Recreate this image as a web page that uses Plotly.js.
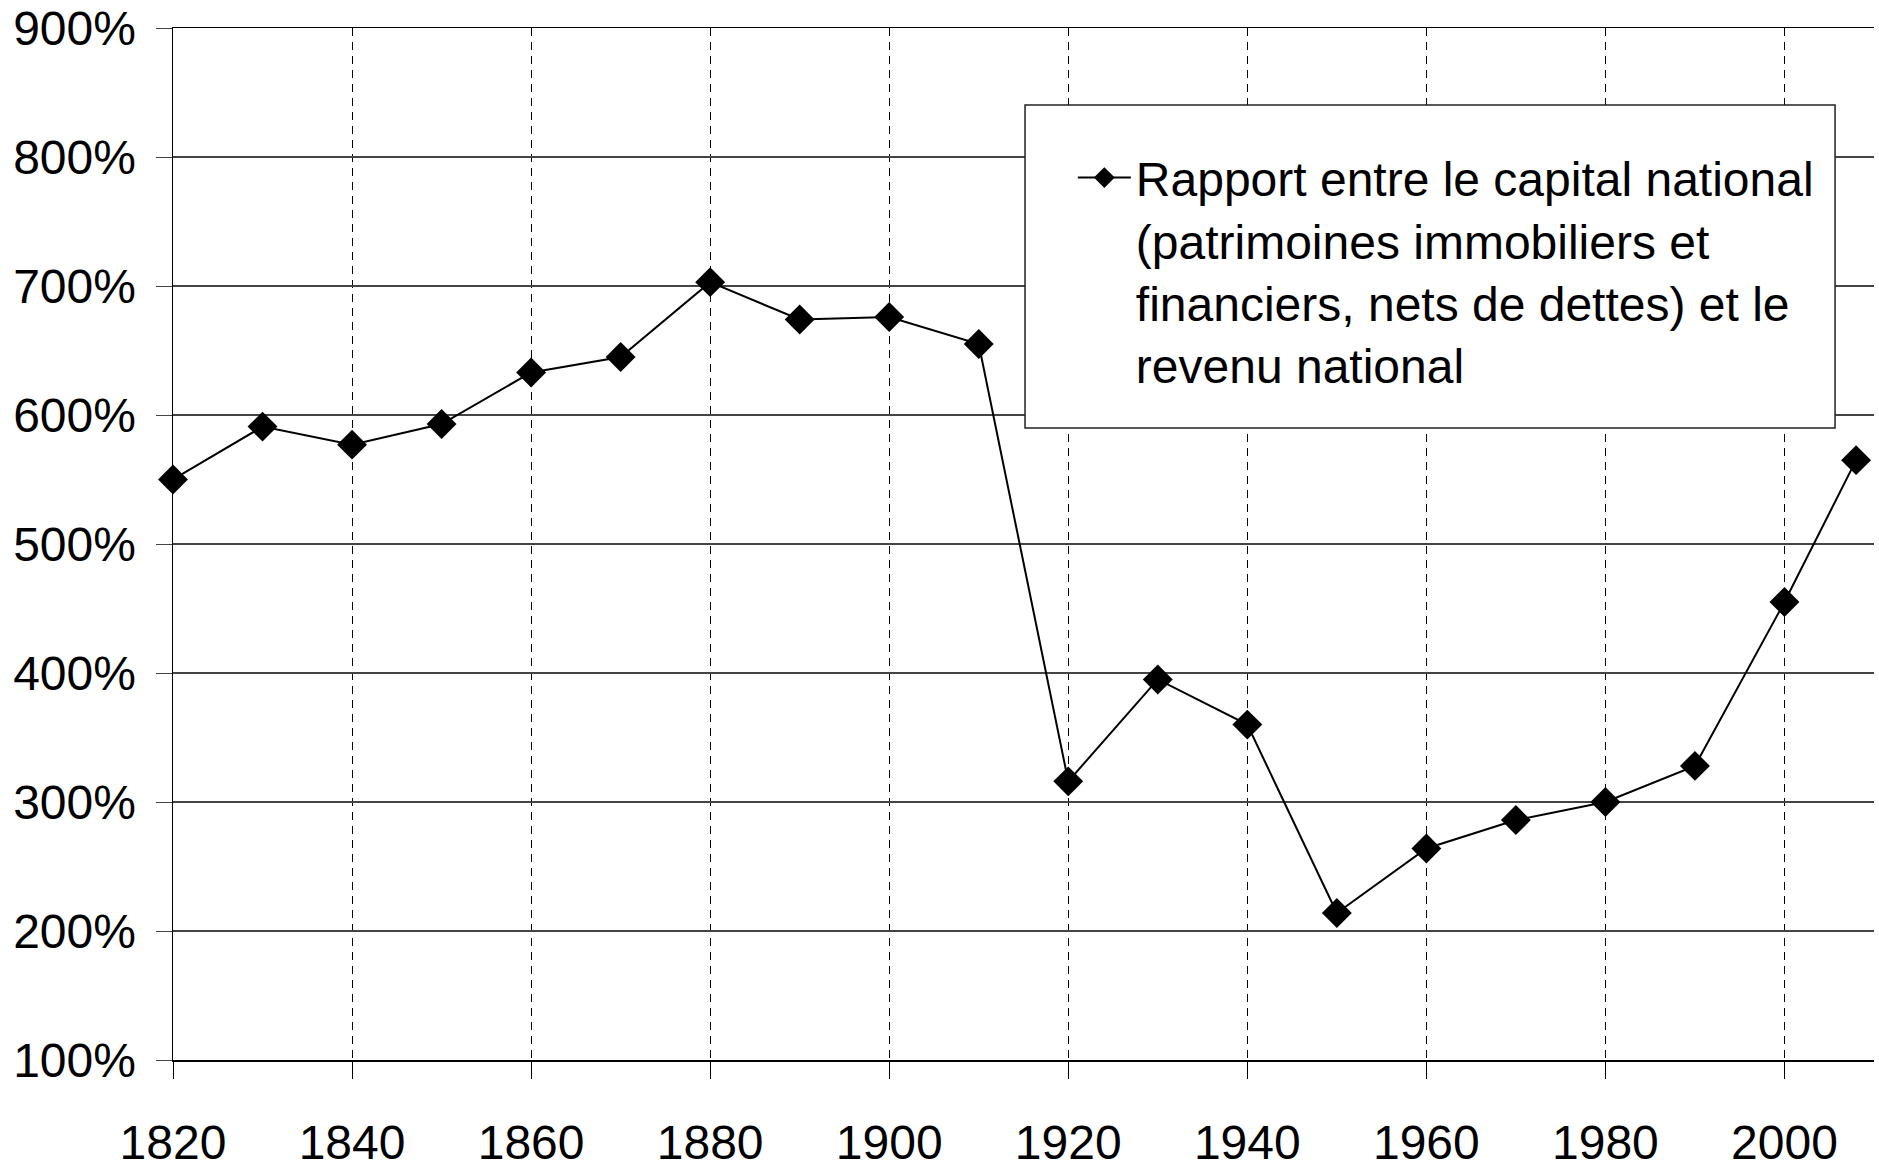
<!DOCTYPE html>
<html>
<head>
<meta charset="utf-8">
<script src="https://cdn.plot.ly/plotly-3.0.1.min.js"></script>
<style>
html,body{margin:0;padding:0;background:#ffffff;}
#chart{width:1879px;height:1174px;}
</style>
</head>
<body>
<div id="chart"></div>
<script>
// ---- data ----
const years = [1820,1830,1840,1850,1860,1870,1880,1890,1900,1910,1920,1930,1940,1950,1960,1970,1980,1990,2000,2008];
const ratioPct = [550,591,577,593,633,645,703,674,676,655,316,395,360,214,264,286,300,328,455,565];
const seriesName = "Rapport entre le capital national<br>(patrimoines immobiliers et<br>financiers, nets de dettes) et le<br>revenu national";
const xTickVals = [1820,1840,1860,1880,1900,1920,1940,1960,1980,2000];
const xTickText = ["1820","1840","1860","1880","1900","1920","1940","1960","1980","2000"];
const yTickVals = [100,200,300,400,500,600,700,800,900];
const yTickText = ["100%","200%","300%","400%","500%","600%","700%","800%","900%"];

const tickFont = {family: "'Liberation Sans', Arial, sans-serif", size: 48, color: "#000"};

const trace = {
  x: years,
  y: ratioPct,
  type: "scatter",
  mode: "lines+markers",
  name: seriesName,
  line: {color: "#000", width: 2},
  marker: {symbol: "diamond", size: 23, color: "#000", line: {width: 0}},
  showlegend: true,
  cliponaxis: false
};

const layout = {
  width: 1879,
  height: 1174,
  margin: {l: 173, r: 5, t: 28, b: 114, pad: 0},
  paper_bgcolor: "#ffffff",
  plot_bgcolor: "#ffffff",
  showlegend: true,
  xaxis: {
    range: [1820, 2010],
    tickmode: "array",
    tickvals: xTickVals,
    ticktext: xTickText,
    ticks: "outside",
    ticklen: 17,
    tickwidth: 1,
    tickcolor: "#000",
    showgrid: true,
    gridcolor: "#000",
    gridwidth: 1,
    griddash: "8px,6px",
    zeroline: false,
    showline: true,
    linecolor: "#000",
    linewidth: 1.5,
    mirror: true,
    tickfont: tickFont,
    ticklabelstandoff: 23
  },
  yaxis: {
    range: [100, 900],
    tickmode: "array",
    tickvals: yTickVals,
    ticktext: yTickText,
    ticks: "outside",
    ticklen: 16,
    tickwidth: 1,
    tickcolor: "#444",
    showgrid: true,
    gridcolor: "#444",
    gridwidth: 1.5,
    zeroline: false,
    showline: true,
    linecolor: "#000",
    linewidth: 1.5,
    tickfont: tickFont,
    ticklabelstandoff: 10
  },
  legend: {
    x: 0.529,
    y: 0.8916,
    xanchor: "left",
    yanchor: "top",
    bgcolor: "rgba(0,0,0,0)",
    borderwidth: 0,
    valign: "top",
    itemwidth: 53,
    font: {family: "'Liberation Sans', Arial, sans-serif", size: 48, color: "#000"}
  },
  shapes: [{
    type: "rect",
    xref: "paper", yref: "paper",
    x0: 0.5009, x1: 0.9771, y0: 0.6124, y1: 0.9254,
    fillcolor: "#ffffff",
    line: {color: "#222", width: 1.5},
    layer: "above"
  }]
};

Plotly.newPlot("chart", [trace], layout, {displayModeBar: false, staticPlot: true});
</script>
</body>
</html>
